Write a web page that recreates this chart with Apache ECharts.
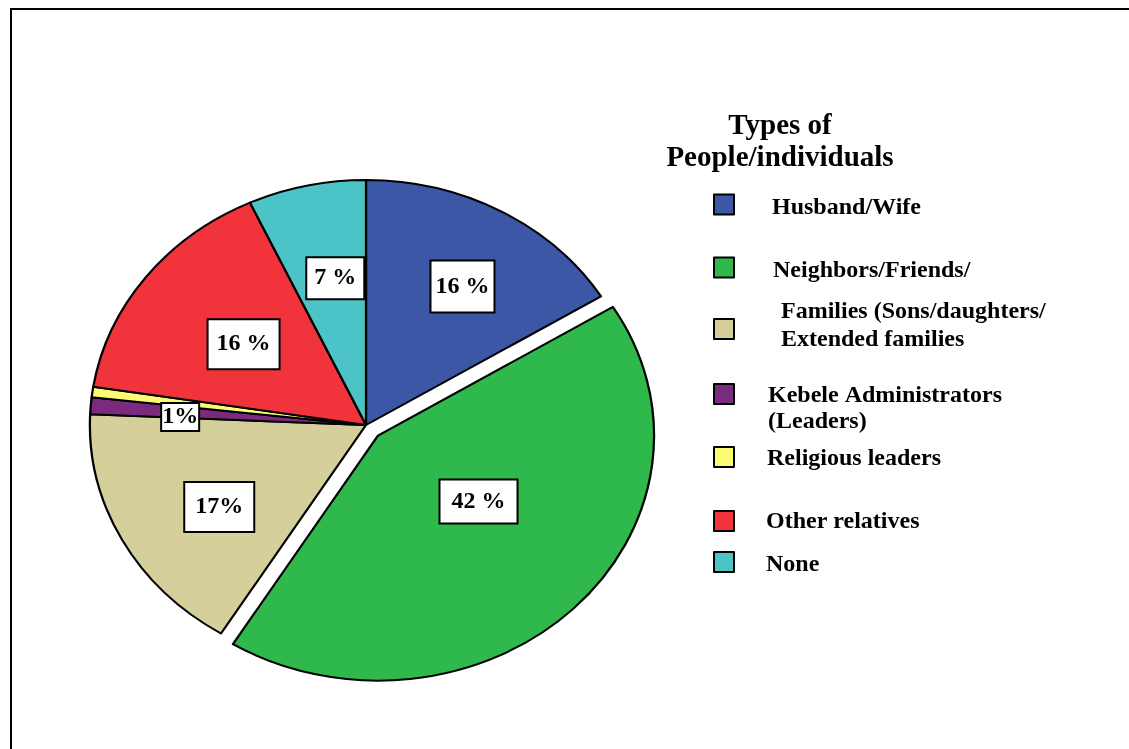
<!DOCTYPE html>
<html><head><meta charset="utf-8">
<script src="https://cdn.jsdelivr.net/npm/echarts@6/dist/echarts.min.js"></script>
<style>
html,body{margin:0;padding:0;background:#fff;overflow:hidden}
#pie,#over{position:absolute;left:0;top:0;width:1129px;height:749px}
#pie{transform:scaleX(1.127);transform-origin:366px 425px}
</style></head><body>
<div id="pie"></div><div id="over"></div>
<script>
// ---- data ----
var categories = [
  'Husband/Wife',
  'Neighbors/Friends/',
  'Families (Sons/daughters/\nExtended families',
  'Kebele Administrators\n(Leaders)',
  'Religious leaders',
  'Other relatives',
  'None'
];
var shares = [16.2, 42.6, 16.9, 1.1, 0.7, 15.6, 6.9];
var shareLabels = ['16 %', '42 %', '17%', '1%', '', '16 %', '7 %'];
var legendTitle = 'Types of\nPeople/individuals';

// ---- styles / layout ----
var colors = ['#3D57A7', '#2FB84B', '#D4CF9B', '#7A2B7F', '#FCFC72', '#F1343B', '#4BC3C7'];
var CX = 366, CY = 425, R = 245, STRETCH = 1.127;
var labelKx = [1.40, 1.125, 1.174, 1.318, 1, 1.085, 1.01];
var labelKy = [1.264, 0.863, 1.396, 0.80, 1, 1.067, 1.197];
var labelPad = [[13, 4], [9, 11], [12, 10], [1, 0], [0, 0], [12, 8], [8, 7]];
var legendIconCenter = [204.5, 267.5, 331, 394, 457, 521, 562];
var legendPre = [7, 7, 0, 30, 4, 2, 6];
var legendPost = [0, 0, 6, 0, 0, 0, 0];
var legendLH = [27, 27, 28, 26, 27, 27, 27];
var legendPadL = [33, 34, 42, 29, 28, 27, 27];
var FONT = 'Liberation Serif';

// ---- elliptical pie (scaled horizontally) ----
var pieChart = echarts.init(document.getElementById('pie'), null, {renderer: 'svg'});
pieChart.setOption({
  animation: false,
  series: [{
    type: 'pie',
    center: [CX, CY],
    radius: R,
    startAngle: 90,
    clockwise: true,
    selectedMode: 'single',
    selectedOffset: 15,
    silent: true,
    label: {show: false},
    labelLine: {show: false},
    emphasis: {disabled: true},
    itemStyle: {borderColor: '#000', borderWidth: 2},
    data: categories.map(function (n, i) {
      return {name: n, value: shares[i], selected: i === 1,
        itemStyle: {color: colors[i]}, select: {itemStyle: {color: colors[i], borderColor: '#000', borderWidth: 2}}};
    })
  }]
});

// ---- overlay: labels, legend, title, frame ----
function legendFor(n, i) {
  var lines = n.split('\n');
  var H = legendPre[i] + legendPost[i] + lines.length * legendLH[i];
  var txt = (legendPre[i] ? '{s| }\n' : '') +
    lines.map(function (l) { return '{t|' + l + '}'; }).join('\n') +
    (legendPost[i] ? '\n{s| }' : '');
  var sH = legendPre[i] || legendPost[i];
  return {
    left: 713, top: legendIconCenter[i] - Math.max(10, H / 2), padding: 0,
    orient: 'vertical', icon: 'rect', itemWidth: 20, itemHeight: 20, selectedMode: false,
    data: [{name: n, itemStyle: {color: colors[i], borderColor: '#000', borderWidth: 2}}],
    formatter: function () { return txt; },
    textStyle: {
      fontFamily: FONT, fontWeight: 'bold', fontSize: 24, color: '#000',
      padding: [0, 0, 0, legendPadL[i]],
      rich: {
        s: {fontSize: 1, lineHeight: sH, height: sH},
        t: {fontFamily: FONT, fontWeight: 'bold', fontSize: 24, color: '#000', lineHeight: legendLH[i]}
      }
    }
  };
}

var overChart = echarts.init(document.getElementById('over'));
overChart.setOption({
  animation: false,
  title: {
    text: legendTitle, left: 780, top: 111, textAlign: 'center', padding: 0,
    textStyle: {fontFamily: FONT, fontWeight: 'bold', fontSize: 29, lineHeight: 32, color: '#000'}
  },
  graphic: [{
    type: 'rect', silent: true,
    shape: {x: 11, y: 9, width: 1300, height: 900},
    style: {fill: 'none', stroke: '#000', lineWidth: 2}
  }],
  legend: categories.map(legendFor),
  series: [{
    type: 'pie',
    center: [CX, CY],
    radius: R,
    startAngle: 90,
    clockwise: true,
    silent: true,
    emphasis: {disabled: true},
    itemStyle: {color: 'rgba(0,0,0,0)', borderWidth: 0},
    labelLine: {show: false},
    label: {
      show: true, position: 'inside',
      formatter: function (p) { return shareLabels[p.dataIndex]; },
      fontFamily: FONT, fontWeight: 'bold', fontSize: 24, lineHeight: 24, color: '#000',
      backgroundColor: '#fff', borderColor: '#000', borderWidth: 2
    },
    labelLayout: function (p) {
      var r = p.labelRect;
      var lx = r.x + r.width / 2, ly = r.y + r.height / 2;
      return {x: CX + (lx - CX) * labelKx[p.dataIndex] * STRETCH,
              y: CY + (ly - CY) * labelKy[p.dataIndex]};
    },
    data: categories.map(function (n, i) {
      return {name: n, value: shares[i],
        label: {show: shareLabels[i] !== '', padding: labelPad[i]}};
    })
  }]
});
</script>
</body></html>
